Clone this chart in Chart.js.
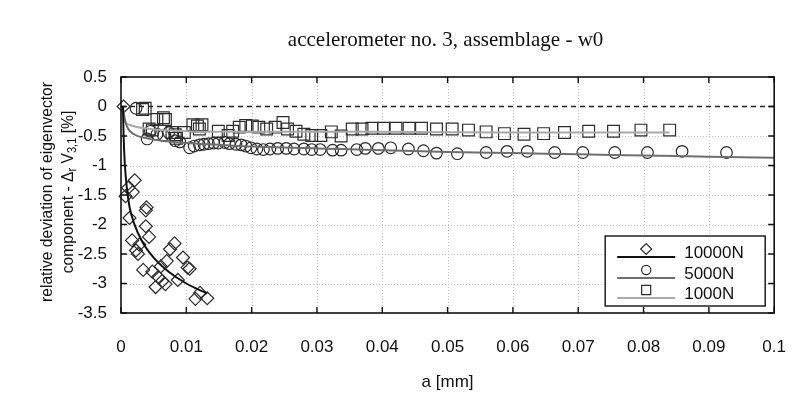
<!DOCTYPE html>
<html>
<head>
<meta charset="utf-8">
<script src="https://cdn.jsdelivr.net/npm/chart.js@4.4.1/dist/chart.umd.min.js"></script>
<style>
html,body{margin:0;padding:0;background:#fff;}
canvas{display:block;}
</style>
</head>
<body>
<canvas id="c" width="810" height="409"></canvas>
<script>
// ---- data ----
const chartTitle = 'accelerometer no. 3, assemblage - w0';
const xTitle = 'a [mm]';
const yTitleLine1 = 'relative deviation of eigenvector';
const seriesLabels = ['10000N', '5000N', '1000N'];

const xTicks = [0, 0.01, 0.02, 0.03, 0.04, 0.05, 0.06, 0.07, 0.08, 0.09, 0.1];
const xTickLabels = ['0', '0.01', '0.02', '0.03', '0.04', '0.05', '0.06', '0.07', '0.08', '0.09', '0.1'];
const yTicks = [0.5, 0, -0.5, -1, -1.5, -2, -2.5, -3, -3.5];
const yTickLabels = ['0.5', '0', '-0.5', '-1', '-1.5', '-2', '-2.5', '-3', '-3.5'];

// measured points: 10000N (diamonds)
const a10000 = [0.0004,0.0021,0.0011,0.0007,0.0018,0.0039,0.0038,0.0013,0.0038,0.0043,0.0017,0.0028,0.0023,0.0026,0.0082,0.0075,0.0070,0.0095,0.0102,0.0105,0.0034,0.0048,0.0061,0.0057,0.0063,0.0068,0.0053,0.0087,0.0121,0.0114,0.0132];
const v10000 = [0.00,-1.25,-1.38,-1.52,-1.45,-1.71,-1.76,-1.89,-2.03,-2.21,-2.27,-2.34,-2.44,-2.50,-2.32,-2.42,-2.62,-2.56,-2.73,-2.75,-2.77,-2.80,-2.71,-2.89,-2.96,-3.01,-3.06,-2.94,-3.16,-3.26,-3.25];

// measured points: 5000N (circles)
const a5000 = [0.0023,0.0040,0.0045,0.0055,0.0065,0.0073,0.0083,0.0090,0.0105,0.0112,0.0120,0.0127,0.0134,0.0142,0.0149,0.0159,0.0166,0.0176,0.0184,0.0191,0.0199,0.0208,0.0218,0.0228,0.0240,0.0253,0.0265,0.0280,0.0292,0.0305,0.0324,0.0337,0.0361,0.0374,0.0394,0.0413,0.0440,0.0463,0.0483,0.0515,0.0559,0.0591,0.0622,0.0664,0.0707,0.0756,0.0806,0.0859,0.0927];
const v5000 = [-0.03,-0.55,-0.42,-0.47,-0.49,-0.44,-0.58,-0.60,-0.70,-0.67,-0.65,-0.64,-0.63,-0.62,-0.62,-0.61,-0.63,-0.64,-0.65,-0.67,-0.70,-0.72,-0.73,-0.72,-0.71,-0.71,-0.72,-0.72,-0.73,-0.73,-0.74,-0.74,-0.73,-0.71,-0.71,-0.70,-0.72,-0.75,-0.79,-0.80,-0.78,-0.76,-0.76,-0.78,-0.78,-0.78,-0.78,-0.76,-0.78];

// measured points: 1000N (squares)
const a1000 = [0.0033,0.0037,0.0043,0.0048,0.0055,0.0065,0.0068,0.0078,0.0083,0.0085,0.0097,0.0110,0.0117,0.0124,0.0120,0.0149,0.0164,0.0171,0.0181,0.0191,0.0201,0.0211,0.0223,0.0236,0.0248,0.0255,0.0268,0.0280,0.0292,0.0306,0.0322,0.0337,0.0354,0.0369,0.0384,0.0402,0.0421,0.0441,0.0460,0.0483,0.0507,0.0532,0.0559,0.0587,0.0617,0.0647,0.0679,0.0716,0.0754,0.0796,0.0840];
const v1000 = [-0.05,-0.03,-0.38,-0.40,-0.22,-0.19,-0.22,-0.44,-0.48,-0.54,-0.44,-0.31,-0.33,-0.31,-0.38,-0.42,-0.49,-0.42,-0.35,-0.32,-0.33,-0.35,-0.38,-0.35,-0.27,-0.38,-0.42,-0.47,-0.49,-0.49,-0.43,-0.50,-0.38,-0.38,-0.37,-0.37,-0.37,-0.37,-0.37,-0.38,-0.38,-0.40,-0.43,-0.46,-0.47,-0.46,-0.44,-0.42,-0.42,-0.40,-0.40];

// fitted curves
const fitA10000 = [0.0003,0.0004,0.0006,0.0009,0.0013,0.0020,0.0033,0.0050,0.0073,0.0100,0.0132];
const fitV10000 = [0.00,-0.50,-1.00,-1.38,-1.70,-1.98,-2.30,-2.56,-2.80,-3.00,-3.17];
const fitA5000 = [0.0003,0.0006,0.0010,0.0020,0.0040,0.0070,0.0100,0.0150,0.0200,0.0300,0.0400,0.0500,0.0600,0.0700,0.0800,0.0900,0.1000];
const fitV5000 = [0.00,-0.22,-0.36,-0.47,-0.54,-0.59,-0.62,-0.65,-0.68,-0.71,-0.74,-0.77,-0.79,-0.81,-0.83,-0.85,-0.87];
const fitA1000 = [0.0001,0.0003,0.0013,0.0036,0.0100,0.0200,0.0400,0.0600,0.0840];
const fitV1000 = [0.00,-0.19,-0.31,-0.37,-0.42,-0.43,-0.43,-0.44,-0.44];

const zeroA = [0, 0.1];
const zeroV = [0, 0];

// ---- build ----
const pts = (xs, ys) => xs.map((x, i) => ({x: x, y: ys[i]}));
const FONT = '"Liberation Sans", Arial, sans-serif';
const markerColor = '#2b2b2b';
const fitColors = ['#111111', '#6e6e6e', '#a9a9a9'];
const pointStyles = ['rectRot', 'circle', 'rect'];
const pointRadii = [6.5, 5.8, 8.3];
const legendRadii = [5.5, 4.6, 6.4];

const fitData = [pts(fitA10000, fitV10000), pts(fitA5000, fitV5000), pts(fitA1000, fitV1000)];
const scatterData = [pts(a10000, v10000), pts(a5000, v5000), pts(a1000, v1000)];

const datasets = [];
for (let i = 0; i < 3; i++) {
  datasets.push({
    label: seriesLabels[i] + ' fit', data: fitData[i], showLine: true,
    borderColor: fitColors[i], borderWidth: 2, pointRadius: 0,
    cubicInterpolationMode: 'monotone', fill: false, order: 1
  });
}
for (let i = 0; i < 3; i++) {
  datasets.push({
    label: seriesLabels[i], data: scatterData[i], showLine: false,
    pointStyle: pointStyles[i], pointRadius: pointRadii[i],
    borderColor: markerColor, backgroundColor: 'rgba(0,0,0,0)', pointBorderWidth: 1.2,
    clip: 10, order: 2
  });
}
datasets.push({
  label: 'zero', data: pts(zeroA, zeroV), showLine: true,
  borderColor: '#222', borderWidth: 1.3, borderDash: [5, 4], pointRadius: 0, order: 3
});

function labelFor(list, labels, v) {
  for (let i = 0; i < list.length; i++) if (Math.abs(list[i] - v) < 1e-9) return labels[i];
  return '';
}

const deco = {
  id: 'deco',
  beforeDatasetsDraw(chart) {
    const {ctx, chartArea: a, scales} = chart;
    ctx.save();
    ctx.strokeStyle = '#c4c4c4';
    ctx.lineWidth = 1;
    ctx.setLineDash([1, 2]);
    scales.x.ticks.forEach(t => {
      const px = Math.round(scales.x.getPixelForValue(t.value)) + 0.5;
      if (px > a.left + 2 && px < a.right - 2) {
        ctx.beginPath(); ctx.moveTo(px, a.top); ctx.lineTo(px, a.bottom); ctx.stroke();
      }
    });
    scales.y.ticks.forEach(t => {
      const py = Math.round(scales.y.getPixelForValue(t.value)) + 0.5;
      if (py > a.top + 2 && py < a.bottom - 2 && Math.abs(t.value) > 1e-9) {
        ctx.beginPath(); ctx.moveTo(a.left, py); ctx.lineTo(a.right, py); ctx.stroke();
      }
    });
    ctx.restore();
  },
  afterDraw(chart) {
    const {ctx, chartArea: a, scales} = chart;
    ctx.save();
    // frame
    ctx.setLineDash([]);
    ctx.strokeStyle = '#111';
    ctx.lineWidth = 1.6;
    ctx.strokeRect(a.left, a.top, a.right - a.left, a.bottom - a.top);
    // inward ticks
    const tl = 6;
    ctx.lineWidth = 1.4;
    scales.x.ticks.forEach(t => {
      const px = scales.x.getPixelForValue(t.value);
      ctx.beginPath();
      ctx.moveTo(px, a.bottom); ctx.lineTo(px, a.bottom - tl);
      ctx.moveTo(px, a.top); ctx.lineTo(px, a.top + tl);
      ctx.stroke();
    });
    scales.y.ticks.forEach(t => {
      const py = scales.y.getPixelForValue(t.value);
      ctx.beginPath();
      ctx.moveTo(a.left, py); ctx.lineTo(a.left + tl, py);
      ctx.moveTo(a.right, py); ctx.lineTo(a.right - tl, py);
      ctx.stroke();
    });

    // main title
    ctx.fillStyle = '#111';
    ctx.font = '21px "Liberation Serif", "Times New Roman", serif';
    ctx.textAlign = 'center';
    ctx.textBaseline = 'middle';
    ctx.fillText(chartTitle, (a.left + a.right) / 2 - 2, 40);

    // y title (two lines, rotated, with subscripts)
    const cy = (a.top + a.bottom) / 2 - 3;
    const squeeze = 0.92;
    ctx.save();
    ctx.translate(47, cy);
    ctx.rotate(-Math.PI / 2);
    ctx.scale(squeeze, 1);
    ctx.font = '17px ' + FONT;
    ctx.textAlign = 'center';
    ctx.textBaseline = 'middle';
    ctx.fillText(yTitleLine1, 0, 0);
    ctx.restore();

    ctx.save();
    ctx.translate(68, cy);
    ctx.rotate(-Math.PI / 2);
    ctx.scale(squeeze, 1);
    const segs = [
      {t: 'component - \u0394', sub: false},
      {t: 'r', sub: true},
      {t: ' V', sub: false},
      {t: '3,1', sub: true},
      {t: ' [%]', sub: false}
    ];
    const mainF = '17px ' + FONT, subF = '12px ' + FONT;
    let total = 0;
    segs.forEach(s => { ctx.font = s.sub ? subF : mainF; s.w = ctx.measureText(s.t).width; total += s.w; });
    let xx = -total / 2;
    ctx.textAlign = 'left';
    ctx.textBaseline = 'middle';
    segs.forEach(s => {
      ctx.font = s.sub ? subF : mainF;
      ctx.fillText(s.t, xx, s.sub ? 5 : 0);
      xx += s.w;
    });
    ctx.restore();

    // legend
    const lw = 160, lh = 70;
    const lx = a.right - 9 - lw, ly = a.bottom - 7 - lh;
    ctx.fillStyle = '#fff';
    ctx.fillRect(lx, ly, lw, lh);
    ctx.strokeStyle = '#111';
    ctx.lineWidth = 1.4;
    ctx.strokeRect(lx, ly, lw, lh);
    const rows = [14, 35, 55];
    for (let i = 0; i < 3; i++) {
      const my = ly + rows[i];
      ctx.strokeStyle = fitColors[i];
      ctx.lineWidth = 2;
      ctx.beginPath(); ctx.moveTo(lx + 12, my + 7); ctx.lineTo(lx + 70, my + 7); ctx.stroke();
      ctx.strokeStyle = markerColor;
      ctx.fillStyle = 'rgba(0,0,0,0)';
      ctx.lineWidth = 1.2;
      Chart.helpers.drawPoint(ctx, {pointStyle: pointStyles[i], radius: legendRadii[i], borderWidth: 1.2}, lx + 41, my - 1);
      ctx.fillStyle = '#111';
      ctx.font = '17px ' + FONT;
      ctx.textAlign = 'left';
      ctx.textBaseline = 'middle';
      ctx.fillText(seriesLabels[i], lx + 79, my + 3);
    }
    ctx.restore();
  }
};

new Chart(document.getElementById('c'), {
  type: 'scatter',
  data: {datasets: datasets},
  options: {
    responsive: false,
    animation: false,
    layout: {padding: {top: 77, right: 14, left: 0, bottom: 0}},
    plugins: {legend: {display: false}, title: {display: false}, tooltip: {enabled: false}},
    scales: {
      x: {
        type: 'linear', min: 0, max: 0.1,
        afterBuildTicks: s => { s.ticks = xTicks.map(v => ({value: v})); },
        ticks: {padding: 24, color: '#111', font: {family: FONT, size: 17},
          maxRotation: 0, autoSkip: false,
          callback: v => labelFor(xTicks, xTickLabels, v)},
        grid: {display: false, drawTicks: false},
        border: {display: false},
        title: {display: true, text: xTitle, color: '#111', font: {family: FONT, size: 17}, padding: {top: 4, bottom: 16}},
        afterFit: s => { s.height = 96; }
      },
      y: {
        type: 'linear', min: -3.5, max: 0.5,
        afterBuildTicks: s => { s.ticks = yTicks.slice().reverse().map(v => ({value: v})); },
        ticks: {padding: 14, color: '#111', font: {family: FONT, size: 17}, autoSkip: false,
          callback: v => labelFor(yTicks, yTickLabels, v)},
        grid: {display: false, drawTicks: false},
        border: {display: false},
        afterFit: s => { s.width = 121; }
      }
    }
  },
  plugins: [deco]
});
</script>
</body>
</html>
